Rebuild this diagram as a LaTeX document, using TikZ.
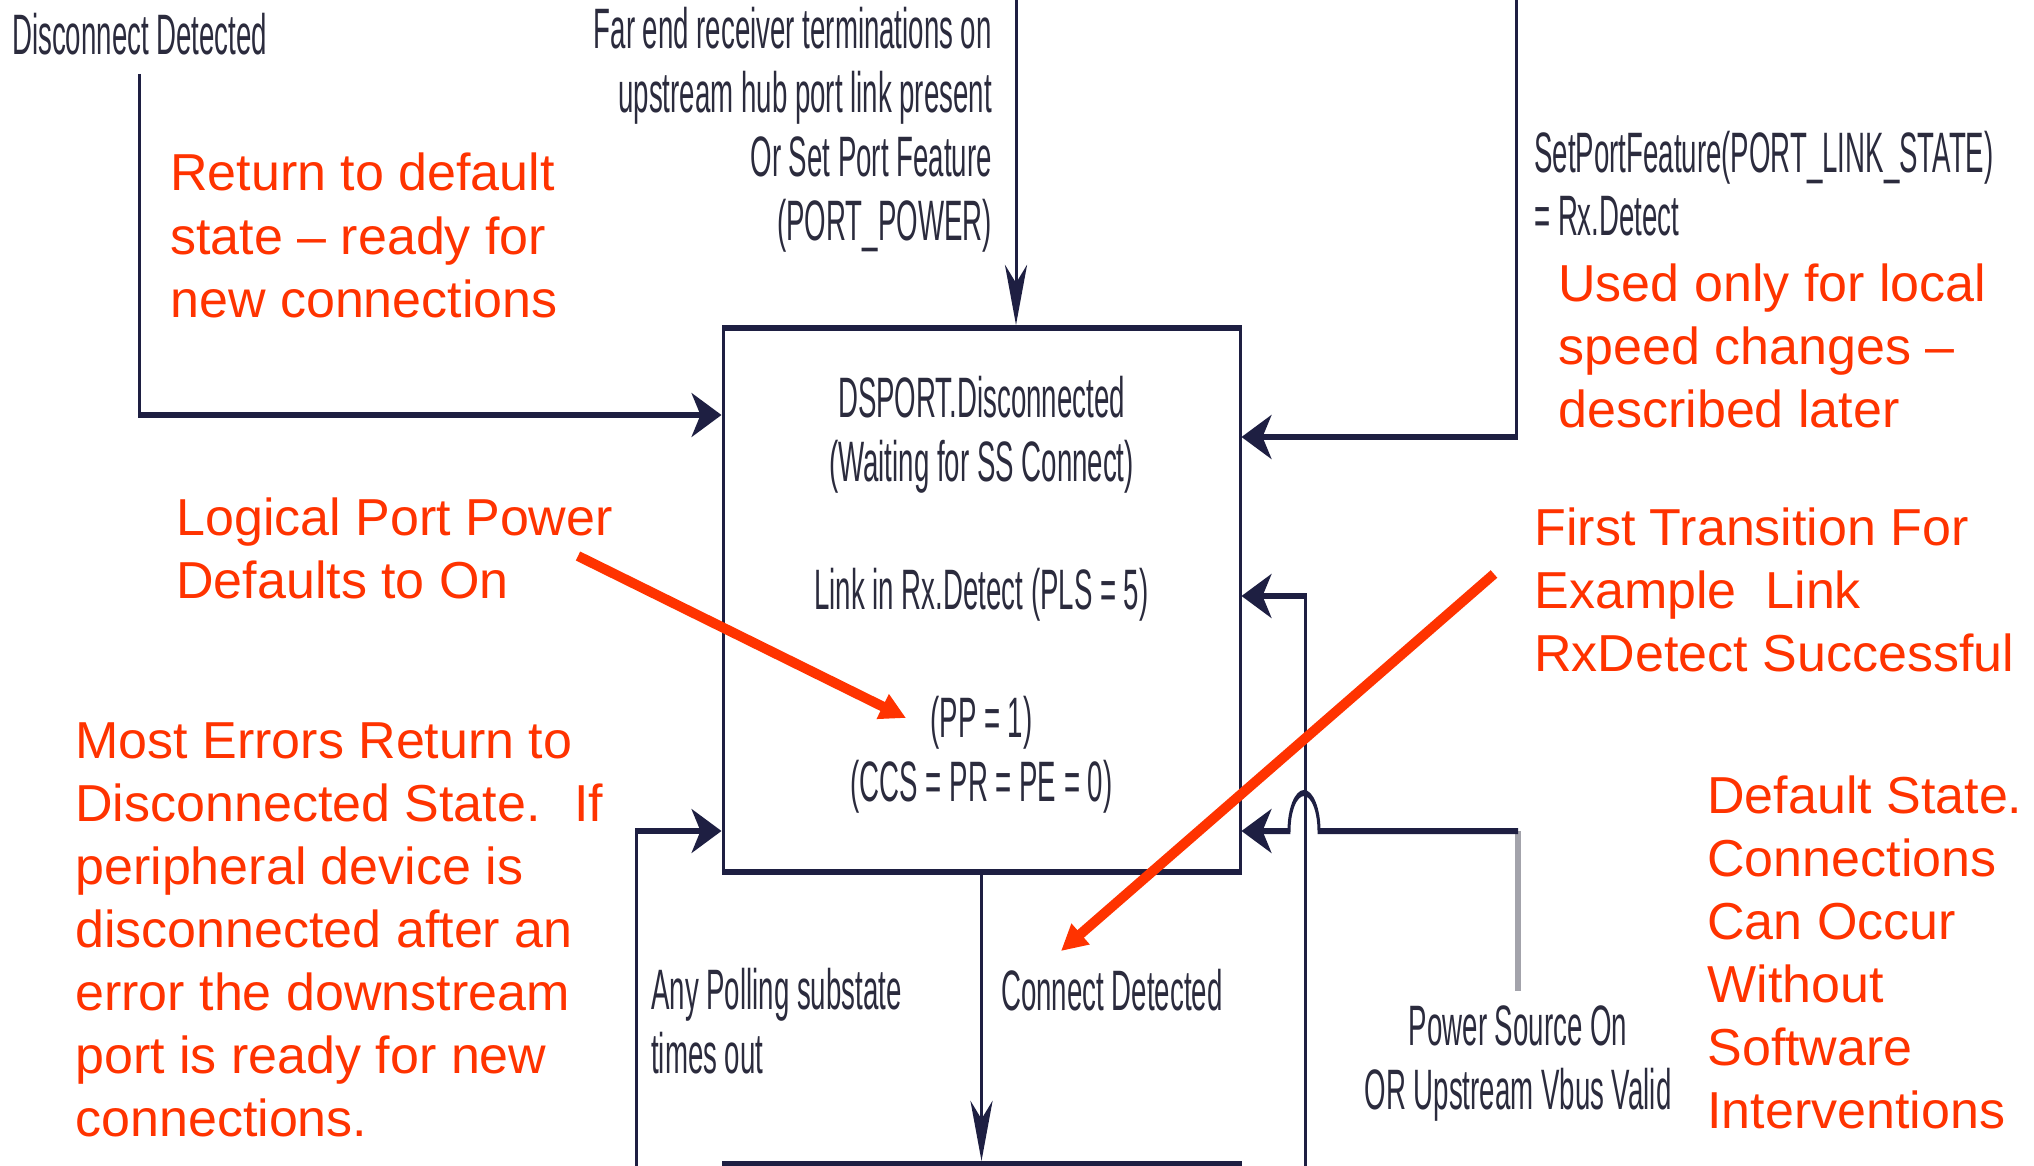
\documentclass[tikz,border=0pt]{standalone}
\usepackage{fontspec}
\setmainfont{Liberation Sans}
\newfontfamily\slidefont[FakeStretch=0.97]{Liberation Sans}
\usetikzlibrary{arrows.meta, positioning, calc}
\definecolor{cLine}{HTML}{1E1F42}
\definecolor{cTxt}{HTML}{2B2B3D}
\definecolor{cNote}{HTML}{FF3300}
\definecolor{cFeed}{HTML}{A3A3AB}

\begin{document}
\begin{tikzpicture}[
  x=0.5pt, y=-0.5pt,
  note/.style={font=\fontsize{26pt}{31.5pt}\selectfont, text=cNote, align=left, anchor=base west, inner sep=0pt},
  hint/.style={-{Triangle[length=13pt, width=13pt]}, line width=5pt, cNote}
]
\useasboundingbox[fill=white] (0,0) rectangle (2034,1166);

% state machine, squeezed to half width like the slide
\begin{scope}[transform canvas={xscale=0.5}, x=1pt, y=-0.5pt,
  lbl/.style={font=\slidefont\fontsize{28.5pt}{32pt}\selectfont, text=cTxt, inner sep=0pt},
  state/.style={draw=cLine, line width=3pt, minimum width=517pt, minimum height=272pt, align=center, font=\slidefont\fontsize{28.5pt}{32pt}\selectfont, text=cTxt},
  arr/.style={-{Stealth[length=30pt, width=22pt, inset=9pt]}, line width=3pt, cLine}
]
\node[state] (disc) at (981.5,600) {DSPORT.Disconnected\\(Waiting for SS Connect)\\[32pt]Link in Rx.Detect (PLS = 5)\\[32pt](PP = 1)\\(CCS = PR = PE = 0)\rule[-11pt]{0pt}{1pt}};
\node[state, below=143pt of disc] (poll) {};

% base = last line of each label
\node[lbl, anchor=base west] (dd) at (12,55) {Disconnect Detected};
\node[lbl, anchor=base east, align=right] (far) at (992,241) {Far end receiver terminations on\\upstream hub port link present\\Or Set Port Feature\\(PORT\_POWER)};
\node[lbl, anchor=base west, align=left] (spf) at (1534,236) {SetPortFeature(PORT\_LINK\_STATE)\\= Rx.Detect};
\node[lbl, anchor=base west, align=left] (aps) at (651,1073) {Any Polling substate\\times out};
\node[lbl, anchor=base west] (cd) at (1001,1010) {Connect Detected};
\node[lbl, anchor=base, align=center] (pso) at (1518,1109) {Power Source On\\OR Upstream Vbus Valid};

\coordinate (topM) at (1016,0);
\coordinate (topR) at (1516,0);
\coordinate (botR) at (1305,1166);
\coordinate (botL) at (636,1166);
\coordinate (pcor) at (1518,831);

\draw[arr] ([yshift=-9pt]dd.south) |- (disc.west |- 0,415);
\draw[arr] (topM) -- (topM |- disc.north);
\draw[arr] (topR) |- (disc.east |- 0,437);
\draw[arr] (botR) |- (disc.east |- 0,596);
\draw[arr] (botL) |- (disc.west |- 0,831);
\draw[arr] (disc) -- (poll);
\draw[cFeed, line width=5.5pt] ([yshift=7pt]pso.north) -- (pcor);
\draw[arr] (pcor) -- (1319,831) arc[start angle=0, end angle=180, x radius=15pt, y radius=19pt] -- (disc.east |- 0,831);
\end{scope}

% red notes (base = last line)
\node[note] (ret) at (170,317) {Return to default\\state – ready for\\new connections};
\node[note] (lpp) at (176,598) {Logical Port Power\\Defaults to On};
\node[note] (mer) at (75,1136) {Most Errors Return to\\Disconnected State.~ If\\peripheral device is\\disconnected after an\\error the downstream\\port is ready for new\\connections.};
\node[note] (used) at (1558,427) {Used only for local\\speed changes –\\described later};
\node[note] (ftr) at (1534,671) {First Transition For\\Example~ Link\\RxDetect Successful};
\node[note] (dfs) at (1707,1128) {Default State.\\Connections\\Can Occur\\Without\\Software\\Interventions};

\coordinate (lppfoot) at (578,556);
\coordinate (pptip) at (906,718);
\coordinate (ftrfoot) at (1494,574);
\coordinate (cdtip) at (1061,951);
\draw[hint] (lppfoot) -- (pptip);
\draw[hint] (ftrfoot) -- (cdtip);
\end{tikzpicture}
\end{document}
